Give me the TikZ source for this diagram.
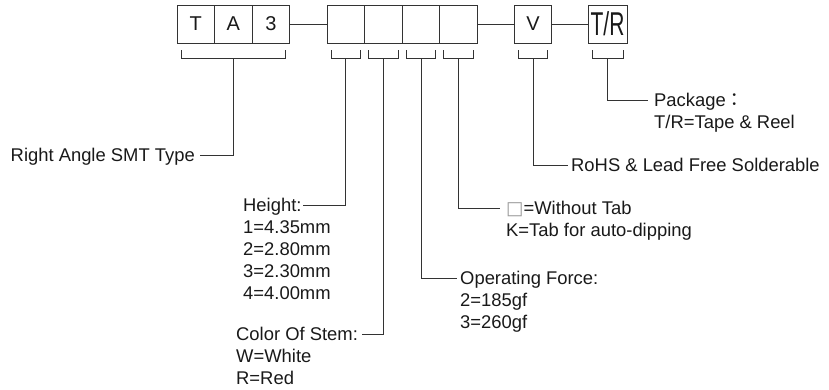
\documentclass[tikz,border=0pt]{standalone}
\usepackage{fontspec}
\usepackage{graphicx}
\setmainfont{Liberation Sans}
\newfontfamily\cjk{Noto Sans CJK TC}
\newfontfamily\symfnt{DejaVu Sans}
\usetikzlibrary{positioning, calc}
% bracket under cells #1..#2, its middle foot becomes coordinate #3
\newcommand{\brk}[3]{%
  \draw[lead] ($(#1.south west)+(4,7)$) -- ++(0,8) -| ($(#2.south east)+(-4,7)$);
  \coordinate (#3) at ($(#1.south west)!0.5!(#2.south east)+(0,15)$);
}
\tikzset{
  cell/.style={draw=black!80, line width=1pt, outer sep=0pt, inner sep=0pt,
    minimum width=37.6pt, minimum height=38pt,
    font=\fontsize{20}{20}\selectfont, text=black!90},
  lbl/.style={inner sep=0pt, align=left, font=\fontsize{18.4}{21.8}\selectfont, text=black!90},
  lead/.style={draw=black!80, line width=1pt},
}

\begin{document}
\begin{tikzpicture}[x=1pt, y=-1pt]
            \useasboundingbox (0,0) rectangle (829,389);

            %Code cells
            \node[cell] at (195.8,24) (t) {T};
            \node[cell, right=0pt of t] (a) {A};
            \node[cell, right=0pt of a] (three) {3};
            \node[cell] at (345.8,24) (g1) {};
            \node[cell, right=0pt of g1] (g2) {};
            \node[cell, right=0pt of g2] (g3) {};
            \node[cell, right=0pt of g3] (g4) {};
            \node[cell] at (533,24) (v) {V};
            \node[cell, minimum width=39pt] at (607.5,24) (tr) {\scalebox{1.05}[1.65]{T/R}};

            %Links between cells
            \draw[lead] (three) -- (g1);
            \draw[lead] (g4) -- (v);
            \draw[lead] (v) -- (tr);

            %Brackets
            \brk{t}{three}{ta-m}
            \brk{g1}{g1}{g1-m}
            \brk{g2}{g2}{g2-m}
            \brk{g3}{g3}{g3-m}
            \brk{g4}{g4}{g4-m}
            \brk{v}{v}{v-m}
            \brk{tr}{tr}{tr-m}

            %Labels
            \node[lbl, anchor=base east] at (195,161.5) (smt) {Right Angle SMT Type};
            \node[lbl, anchor=north west] at (243,198.4) (hgt) {Height:\\1=4.35mm\\2=2.80mm\\3=2.30mm\\4=4.00mm};
            \node[lbl, anchor=north west] at (236,327.4) (col) {Color Of Stem:\\W=White\\R=Red};
            \node[lbl, anchor=north west] at (460,271.4) (frc) {Operating Force:\\2=185gf\\3=260gf};
            \node[lbl, anchor=north west] at (506,201.4) (tab) {{\symfnt\color{black!40}□}=Without Tab\\K=Tab for auto-dipping};
            \node[lbl, anchor=base west] at (571,171.5) (rohs) {RoHS \& Lead Free Solderable};
            \node[lbl, anchor=north west] at (654,93.4) (pkg) {Package{\cjk ：}\\T/R=Tape \& Reel};

            %Line ends
            \coordinate (smt-e) at (200,155);
            \coordinate (hgt-e) at (303,205);
            \coordinate (col-e) at (362,334);
            \coordinate (frc-e) at (457,278);
            \coordinate (tab-e) at (500,208);
            \coordinate (rohs-e) at (568,165);
            \coordinate (pkg-e) at (648,100);

            %Leaders
            \draw[lead] (ta-m) |- (smt-e);
            \draw[lead] (g1-m) |- (hgt-e);
            \draw[lead] (g2-m) |- (col-e);
            \draw[lead] (g3-m) |- (frc-e);
            \draw[lead] (g4-m) |- (tab-e);
            \draw[lead] (v-m) |- (rohs-e);
            \draw[lead] (tr-m) |- (pkg-e);
\end{tikzpicture}
\end{document}
